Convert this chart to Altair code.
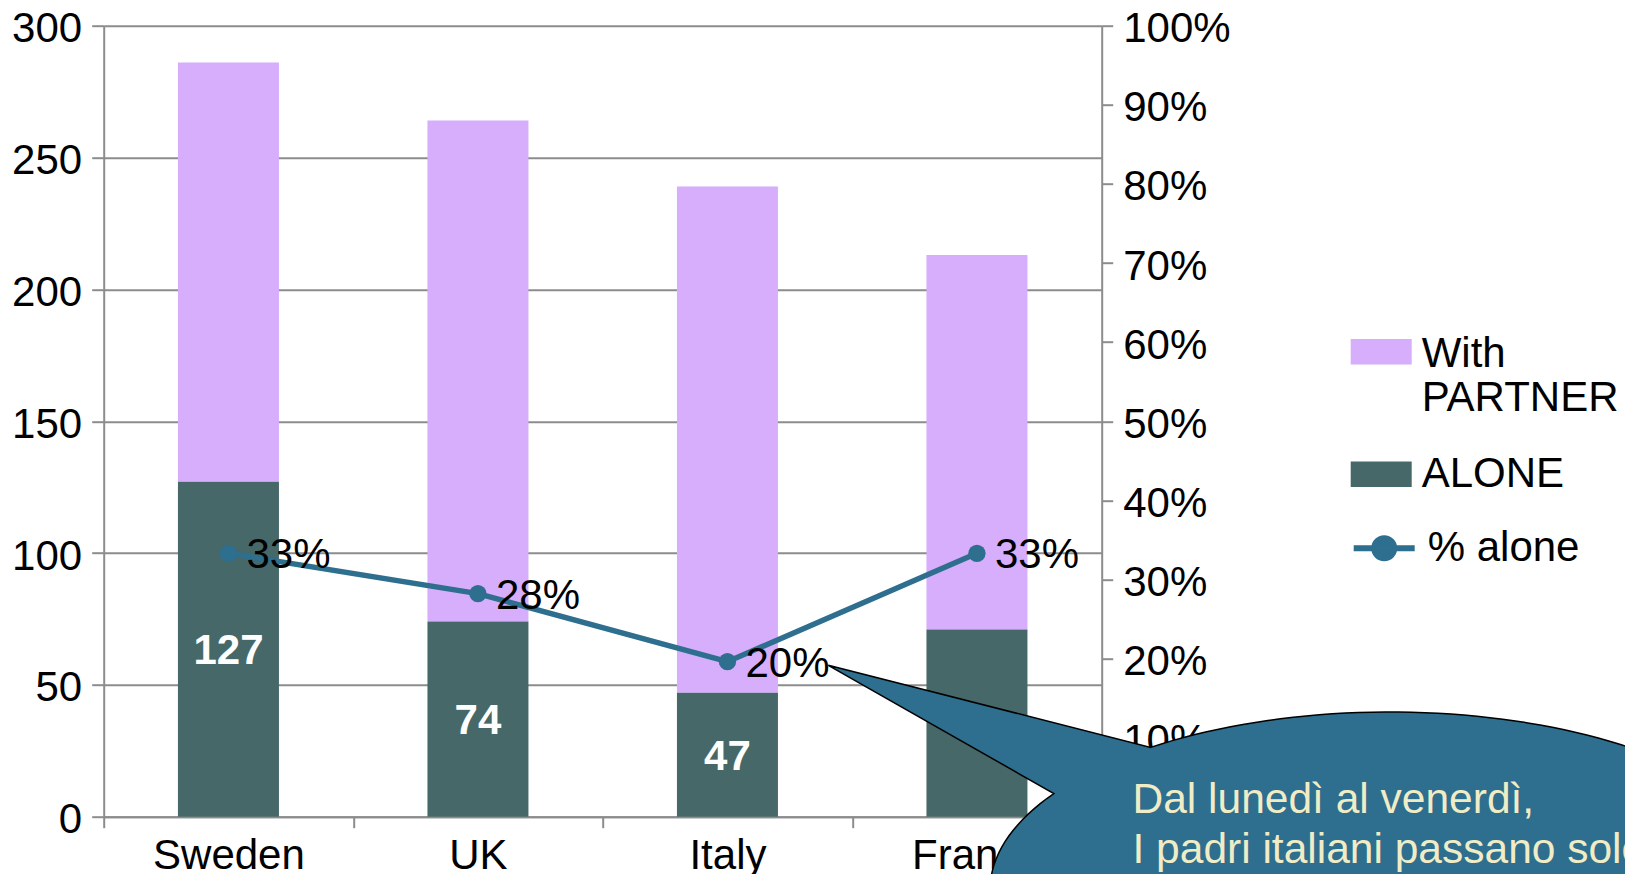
import altair as alt
import numpy as np
import pandas as pd

# ---------------- data ----------------
COUNTRIES = ["Sweden", "UK", "Italy", "France"]
ALONE = [127, 74, 47, 71]
TOTAL = [286, 264, 239, 213]
PCT_ALONE = [0.333, 0.282, 0.196, 0.333]
SERIES = ["With PARTNER", "ALONE", "% alone"]
LEFT_TICKS = [0, 50, 100, 150, 200, 250, 300]
RIGHT_TICKS = [0.0, 0.1, 0.2, 0.3, 0.4, 0.5, 0.6, 0.7, 0.8, 0.9, 1.0]
CALLOUT_LINES = ["Dal lunedì al venerdì,", "I padri italiani passano solo"]

# ---------------- style ----------------
LAV = "#D6AEFB"
SLATE = "#476868"
LINE = "#2E6E8E"
CREAM = "#F0ECC6"
GRID = "#8C8C8C"
FONT = "Liberation Sans"
FS = 42
W, H = 998, 791

df = pd.DataFrame({
    "country": COUNTRIES,
    "alone": ALONE,
    "total": TOTAL,
    "pct": PCT_ALONE,
    "k1": SERIES[0],
    "k2": SERIES[1],
    "k3": SERIES[2],
})

x_enc = alt.X(
    "country:N", sort=COUNTRIES,
    scale=alt.Scale(paddingInner=0, paddingOuter=0),
    axis=alt.Axis(title=None, labelAngle=0, tickBand="extent", tickSize=11,
                  labelPadding=8),
)

left_axis = alt.Axis(title=None, values=LEFT_TICKS, grid=True, tickSize=12,
                     labelPadding=10, labelOffset=3, orient="left")
left_scale = alt.Scale(domain=[0, 300], nice=False)

rect_path = "M-1,-0.42 L1,-0.42 L1,0.42 L-1,0.42 Z"
rect_path_up = "M-1,-0.50 L1,-0.50 L1,0.34 L-1,0.34 Z"
k = 0.328
c = k * 0.5523
line_sym = (
    "M-1,0 L1,0 "
    f"M{-k},0 C{-k},{-c} {-c},{-k} 0,{-k} C{c},{-k} {k},{-c} {k},0 "
    f"C{k},{c} {c},{k} 0,{k} C{-c},{k} {-k},{c} {-k},0 Z"
)

legend_common = dict(title=None, orient="none", labelFont=FONT, labelFontSize=FS,
                     labelColor="black", labelLimit=400, labelOffset=10,
                     symbolSize=3721, padding=0)

base = alt.Chart(df)

partner = base.mark_bar(size=101).encode(
    x=x_enc,
    y=alt.Y("alone:Q", scale=left_scale, axis=left_axis),
    y2="total:Q",
    fill=alt.Fill("k1:N", scale=alt.Scale(domain=[SERIES[0]], range=[LAV]),
                  legend=alt.Legend(symbolType=rect_path_up, symbolStrokeWidth=0,
                                    labelExpr="split(datum.label, ' ')",
                                    legendX=1247, legendY=298, **legend_common)),
)

alone = base.mark_bar(size=101).encode(
    x=x_enc,
    y=alt.Y("alone:Q", scale=left_scale, axis=left_axis),
    color=alt.Color("k2:N", scale=alt.Scale(domain=[SERIES[1]], range=[SLATE]),
                    legend=alt.Legend(symbolType=rect_path, symbolStrokeWidth=0,
                                      legendX=1247, legendY=418, **legend_common)),
)

bar_labels = base.transform_calculate(mid="datum.alone / 2").mark_text(
    font=FONT, fontSize=FS, fontWeight="bold", color="white",
    align="center", baseline="middle", dy=2,
).encode(
    x=x_enc,
    y=alt.Y("mid:Q", scale=left_scale, axis=left_axis),
    text=alt.Text("alone:Q"),
)

bars_group = alt.layer(partner, alone, bar_labels)

right_axis = alt.Axis(title=None, values=RIGHT_TICKS, format=".0%", grid=False,
                      tickSize=11, labelPadding=10, labelOffset=3, orient="right")
right_scale = alt.Scale(domain=[0, 1], nice=False)

line = base.mark_line(strokeWidth=5.5).encode(
    x=x_enc,
    y=alt.Y("pct:Q", scale=right_scale, axis=right_axis),
    stroke=alt.Stroke("k3:N", scale=alt.Scale(domain=[SERIES[2]], range=[LINE]),
                      legend=alt.Legend(symbolType=line_sym, symbolStrokeWidth=6,
                                        symbolFillColor=LINE,
                                        legendX=1247, legendY=489, **legend_common)),
)

points = base.mark_circle(size=300, color=LINE, opacity=1).encode(
    x=x_enc,
    y=alt.Y("pct:Q", scale=right_scale, axis=right_axis),
)

pct_labels = base.mark_text(
    font=FONT, fontSize=FS, color="black", align="left", baseline="middle", dx=18, dy=2,
).encode(
    x=x_enc,
    y=alt.Y("pct:Q", scale=right_scale, axis=right_axis),
    text=alt.Text("pct:Q", format=".0%"),
)

line_group = alt.layer(line, points, pct_labels)

# ---------------- callout (speech bubble) ----------------
rx, ry = 4.0, 1.78
t0 = np.arctan2(-1.43 / ry, -2.40 / rx)
t1 = np.arctan2(-0.97 / ry, -3.38 / rx) + 2 * np.pi
ts = np.linspace(t0, t1, 180)
pts = [f"{rx * np.cos(t):.4f},{ry * np.sin(t):.4f}" for t in ts]
bubble_path = "M" + " L".join(pts) + " L-5.617,-2.247 Z"

one = pd.DataFrame({"a": [0]})
bubble = alt.Chart(one).mark_point(
    shape=bubble_path, size=40000, filled=True, fill=LINE, stroke="black",
    strokeWidth=1.5, opacity=1, fillOpacity=1, strokeOpacity=1,
).encode(x=alt.value(1286.3), y=alt.value(864.3))

bubble_text = alt.Chart(one).mark_text(
    text=CALLOUT_LINES, font=FONT, fontSize=42.5, color=CREAM, align="left",
    baseline="alphabetic", lineHeight=50,
).encode(x=alt.value(1028.8), y=alt.value(787.3))

chart = alt.layer(bars_group, line_group, bubble, bubble_text).resolve_scale(
    y="independent"
).properties(
    width=W, height=H,
    autosize=alt.AutoSizeParams(type="none"),
    padding={"left": 95.7, "top": 17.7, "right": 523.3, "bottom": 57.3},
).configure_view(strokeWidth=0).configure_axis(
    labelFont=FONT, labelFontSize=FS, labelColor="black",
    domainColor=GRID, domainWidth=2, tickColor=GRID, tickWidth=2,
    gridColor=GRID, gridWidth=2,
)

chart.save("out.html", embed_options={"renderer": "svg", "actions": False})
